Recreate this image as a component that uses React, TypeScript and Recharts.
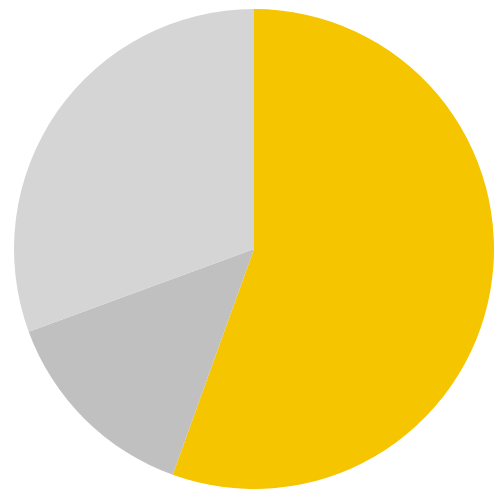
import React from "react";
import { PieChart, Pie, Cell } from "recharts";

const categories = ["A", "B", "C"];
const values = [55.5, 13.9, 30.6];
const colors = ["#F5C500", "#C0C0C0", "#D5D5D5"];

const data = categories.map((name, i) => ({ name, value: values[i] }));

export default function App() {
  return (
    <div style={{ position: "absolute", left: 0, top: 0, width: 500, height: 497 }}>
      <PieChart width={500} height={497} margin={{ top: 0, right: 0, bottom: 0, left: 0 }}>
        <Pie
          data={data}
          dataKey="value"
          nameKey="name"
          cx={254}
          cy={249}
          outerRadius={240}
          innerRadius={0}
          startAngle={90}
          endAngle={-270}
          stroke="none"
          isAnimationActive={false}
        >
          {data.map((d, i) => (
            <Cell key={d.name} fill={colors[i]} stroke="none" />
          ))}
        </Pie>
      </PieChart>
    </div>
  );
}
